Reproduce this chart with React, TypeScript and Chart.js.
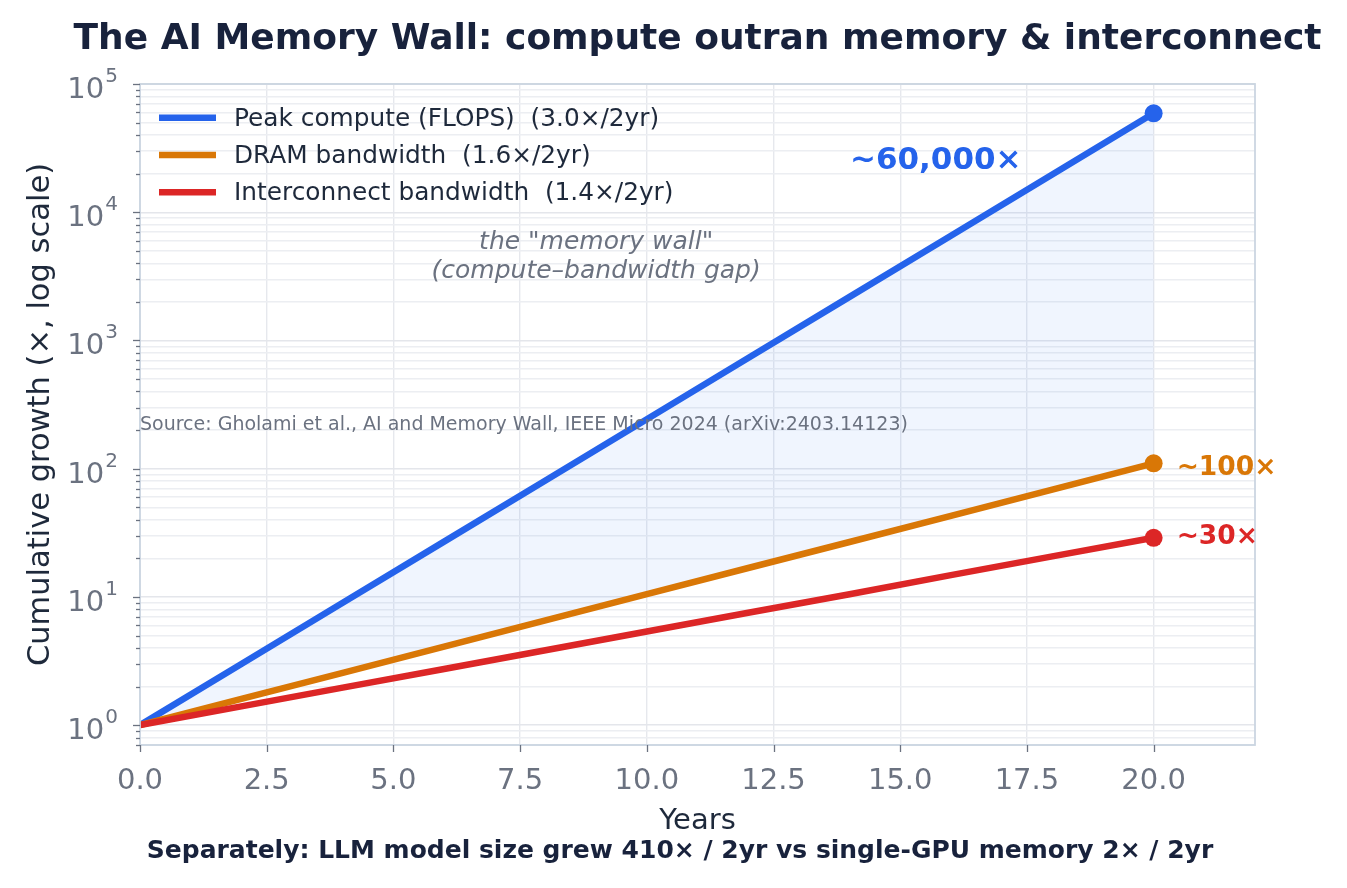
import React, { useEffect, useRef } from "react";
import { Chart, registerables } from "chart.js";

Chart.register(...registerables);

// ---------------- data ----------------
const years = [0, 2, 4, 6, 8, 10, 12, 14, 16, 18, 20];
const computeGrowth = [1, 3, 9, 27, 81, 243, 729, 2187, 6561, 19683, 59049];
const dramGrowth = [1, 1.6, 2.56, 4.1, 6.55, 10.5, 16.8, 26.8, 42.9, 68.7, 110];
const interconnectGrowth = [1, 1.4, 1.96, 2.74, 3.84, 5.38, 7.53, 10.5, 14.8, 20.7, 28.9];

const seriesLabels = [
  "Peak compute (FLOPS)  (3.0×/2yr)",
  "DRAM bandwidth  (1.6×/2yr)",
  "Interconnect bandwidth  (1.4×/2yr)",
];
const seriesColors = ["#2563eb", "#d97706", "#dc2626"];
const endLabels = ["~60,000×", "~100×", "~30×"];

const xTicks = [0, 2.5, 5, 7.5, 10, 12.5, 15, 17.5, 20];
const xTickLabels = ["0.0", "2.5", "5.0", "7.5", "10.0", "12.5", "15.0", "17.5", "20.0"];
const yDecadeExponents = [0, 1, 2, 3, 4, 5];

const titleText = "The AI Memory Wall: compute outran memory & interconnect";
const xAxisTitle = "Years";
const yAxisTitle = "Cumulative growth (×, log scale)";
const captionText = "Separately: LLM model size grew 410× / 2yr vs single-GPU memory 2× / 2yr";
const sourceText = "Source: Gholami et al., AI and Memory Wall, IEEE Micro 2024 (arXiv:2403.14123)";
const wallLines = ["the \"memory wall\"", "(compute–bandwidth gap)"];

// ---------------- helpers ----------------
const FONT = "'DejaVu Sans', sans-serif";
const Y_MIN = 0.7;
const Y_MAX = 1e5;

function buildYTicks(): number[] {
  const out: number[] = [];
  for (let p = -1; p <= 4; p++) {
    for (let m = 1; m <= 9; m++) {
      const v = m * Math.pow(10, p);
      if (v >= Y_MIN - 1e-9 && v <= Y_MAX) out.push(v);
    }
  }
  out.push(Y_MAX);
  return out;
}
const yTickValues = buildYTicks();
const isPow10 = (v: number) => Math.abs(Math.log10(v) - Math.round(Math.log10(v))) < 1e-9;

const toPoints = (vals: number[]) => years.map((x, i) => ({ x, y: vals[i] }));

const overlayPlugin = {
  id: "overlay",
  afterDraw(chart: any) {
    const { ctx, chartArea: a, scales } = chart;
    const xs = scales.x;
    const ys = scales.y;
    ctx.save();

    // spines
    ctx.strokeStyle = "#cbd5e1";
    ctx.lineWidth = 1.8;
    ctx.strokeRect(a.left, a.top, a.right - a.left, a.bottom - a.top);

    // x ticks + labels
    ctx.strokeStyle = "#6b7280";
    ctx.lineWidth = 1.3;
    ctx.fillStyle = "#6b7280";
    ctx.font = `29px ${FONT}`;
    ctx.textAlign = "center";
    ctx.textBaseline = "alphabetic";
    xTicks.forEach((v, i) => {
      const px = Math.round(xs.getPixelForValue(v)) + 0.5;
      ctx.beginPath();
      ctx.moveTo(px, a.bottom);
      ctx.lineTo(px, a.bottom + 7);
      ctx.stroke();
      ctx.fillText(xTickLabels[i], xs.getPixelForValue(v), 789);
    });

    // y ticks
    yTickValues.forEach((v) => {
      const py = Math.round(ys.getPixelForValue(v)) + 0.5;
      const len = isPow10(v) ? 7 : 4;
      ctx.beginPath();
      ctx.moveTo(a.left, py);
      ctx.lineTo(a.left - len, py);
      ctx.stroke();
    });
    // y labels 10^n
    yDecadeExponents.forEach((e) => {
      const py = ys.getPixelForValue(Math.pow(10, e));
      const exp = String(e);
      ctx.font = `20px ${FONT}`;
      const ew = ctx.measureText(exp).width;
      const right = a.left - 22;
      ctx.textAlign = "right";
      ctx.fillText(exp, right, py - 2);
      ctx.font = `29px ${FONT}`;
      ctx.fillText("10", right - ew - 1, py + 14);
    });

    // axis titles
    ctx.fillStyle = "#1e293b";
    ctx.font = `29px ${FONT}`;
    ctx.textAlign = "center";
    ctx.fillText(xAxisTitle, (a.left + a.right) / 2, 829);
    ctx.save();
    ctx.translate(49, (a.top + a.bottom) / 2);
    ctx.rotate(-Math.PI / 2);
    ctx.font = `30.5px ${FONT}`;
    ctx.fillText(yAxisTitle, 0, 0);
    ctx.restore();

    // title
    ctx.fillStyle = "#18223c";
    ctx.font = `bold 36px ${FONT}`;
    ctx.fillText(titleText, (a.left + a.right) / 2, 49);

    // caption
    ctx.font = `bold 25px ${FONT}`;
    ctx.fillText(captionText, 680, 858);

    // legend
    const legendTop = 117.7;
    const legendGap = 37.3;
    chart.data.datasets.forEach((ds: any, i: number) => {
      const ly = legendTop + i * legendGap;
      ctx.strokeStyle = ds.borderColor;
      ctx.lineWidth = 6.5;
      ctx.lineCap = "butt";
      ctx.beginPath();
      ctx.moveTo(a.left + 19, ly);
      ctx.lineTo(a.left + 76, ly);
      ctx.stroke();
      ctx.fillStyle = "#1e293b";
      ctx.font = `24.8px ${FONT}`;
      ctx.textAlign = "left";
      ctx.fillText(ds.label, a.left + 94, ly + 8);
    });

    // end labels
    const last = years.length - 1;
    const endX = xs.getPixelForValue(years[last]);
    const seriesVals = [computeGrowth, dramGrowth, interconnectGrowth];
    ctx.font = `bold 31px ${FONT}`;
    ctx.fillStyle = seriesColors[0];
    ctx.textAlign = "center";
    ctx.fillText(endLabels[0], xs.getPixelForValue(15.7), ys.getPixelForValue(26500) + 11);
    ctx.font = `bold 26.5px ${FONT}`;
    ctx.textAlign = "left";
    ctx.fillStyle = seriesColors[1];
    ctx.fillText(endLabels[1], endX + 23, ys.getPixelForValue(seriesVals[1][last]) + 12);
    ctx.fillStyle = seriesColors[2];
    ctx.fillText(endLabels[2], endX + 23, ys.getPixelForValue(seriesVals[2][last]) + 6);

    // memory wall text
    ctx.font = `italic 25px ${FONT}`;
    ctx.fillStyle = "#6b7280";
    ctx.textAlign = "center";
    const wx = xs.getPixelForValue(9.0);
    ctx.fillText(wallLines[0], wx, 249);
    ctx.fillText(wallLines[1], wx, 278);

    // source
    ctx.font = `19px ${FONT}`;
    ctx.textAlign = "left";
    ctx.fillText(sourceText, a.left, 430);

    ctx.restore();
  },
};

export default function App() {
  const canvasRef = useRef<HTMLCanvasElement | null>(null);

  useEffect(() => {
    const canvas = canvasRef.current;
    if (!canvas) return;
    const lastIdx = years.length - 1;
    const pointR = (ctx: any) => (ctx.dataIndex === lastIdx ? 9 : 0);

    const chart = new Chart(canvas, {
      type: "line",
      data: {
        datasets: [
          {
            label: seriesLabels[0],
            data: toPoints(computeGrowth),
            borderColor: seriesColors[0],
            backgroundColor: "rgba(37,99,235,0.065)",
            pointBackgroundColor: seriesColors[0],
            borderWidth: 6.5,
            pointRadius: pointR,
            pointBorderWidth: 0,
            fill: "+1",
            order: 3,
            tension: 0,
          },
          {
            label: seriesLabels[1],
            data: toPoints(dramGrowth),
            borderColor: seriesColors[1],
            backgroundColor: seriesColors[1],
            pointBackgroundColor: seriesColors[1],
            borderWidth: 6.5,
            pointRadius: pointR,
            pointBorderWidth: 0,
            fill: false,
            order: 2,
            tension: 0,
          },
          {
            label: seriesLabels[2],
            data: toPoints(interconnectGrowth),
            borderColor: seriesColors[2],
            backgroundColor: seriesColors[2],
            pointBackgroundColor: seriesColors[2],
            borderWidth: 6.5,
            pointRadius: pointR,
            pointBorderWidth: 0,
            fill: false,
            order: 1,
            tension: 0,
          },
        ],
      },
      options: {
        responsive: false,
        animation: false,
        devicePixelRatio: 1,
        layout: { padding: { left: 0, right: 92, top: 84, bottom: 0 } },
        plugins: {
          legend: { display: false },
          title: { display: false },
          tooltip: { enabled: false },
        },
        scales: {
          x: {
            type: "linear",
            min: 0,
            max: 22,
            border: { display: false },
            grid: { color: "#e6e8ed", lineWidth: 1.4, drawTicks: false },
            ticks: { display: false },
            afterBuildTicks: (s: any) => {
              s.ticks = xTicks.map((v) => ({ value: v }));
            },
            afterFit: (s: any) => {
              s.height = 143;
            },
          },
          y: {
            type: "logarithmic",
            min: Y_MIN,
            max: Y_MAX,
            border: { display: false },
            grid: {
              color: (c: any) => (c.tick && isPow10(c.tick.value) ? "#e4e6eb" : "#eceef2"),
              lineWidth: 1.4,
              drawTicks: false,
            },
            ticks: { display: false },
            afterBuildTicks: (s: any) => {
              s.ticks = yTickValues.map((v) => ({ value: v, major: isPow10(v) }));
            },
            afterFit: (s: any) => {
              s.width = 140;
            },
          },
        },
      } as any,
      plugins: [overlayPlugin],
    });
    return () => chart.destroy();
  }, []);

  return (
    <canvas
      ref={canvasRef}
      width={1347}
      height={888}
      style={{ position: "absolute", left: 0, top: 0, display: "block", background: "#ffffff" }}
    />
  );
}
